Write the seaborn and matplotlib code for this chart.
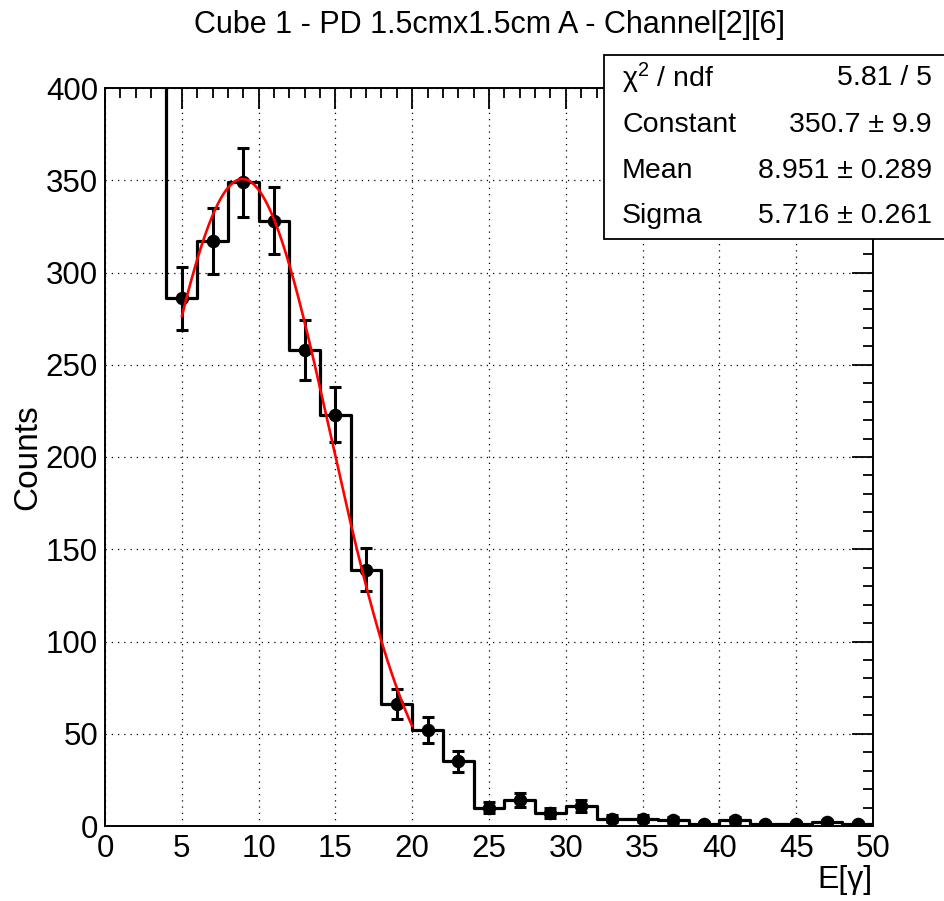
import numpy as np
import pandas as pd
import matplotlib
matplotlib.use("Agg")
import matplotlib.pyplot as plt
from matplotlib.ticker import MultipleLocator
from matplotlib.patches import Rectangle
import seaborn as sns

# Energy histogram: bin edges (width 2) and counts per bin
bin_edges = list(range(2, 52, 2))
counts = [452, 286, 317, 349, 328, 258, 223, 139, 66, 52, 35, 10, 14, 7, 11,
          4, 4, 3, 1, 3, 1, 1, 2, 1]

# Gaussian fit result
fit_constant = 350.7
fit_mean = 8.951
fit_sigma = 5.716
fit_range = (5.0, 20.0)

title_text = "Cube 1 - PD 1.5cmx1.5cm A - Channel[2][6]"
stat_labels = ["χ$^{2}$ / ndf", "Constant", "Mean", "Sigma"]
stat_values = ["5.81 / 5", "350.7 ± 9.9", "8.951 ± 0.289", "5.716 ± 0.261"]

sns.set_style("white")
plt.rcParams["font.family"] = ["Liberation Sans", "DejaVu Sans"]
plt.rcParams["mathtext.fontset"] = "custom"
plt.rcParams["mathtext.rm"] = "Liberation Sans"
plt.rcParams["mathtext.it"] = "Liberation Sans:italic"
plt.rcParams["mathtext.bf"] = "Liberation Sans:bold"
for key in ["text.color", "axes.labelcolor", "xtick.color", "ytick.color",
            "axes.edgecolor"]:
    plt.rcParams[key] = "black"

edges = np.array(bin_edges, dtype=float)
centers = 0.5 * (edges[:-1] + edges[1:])
df = pd.DataFrame({"E": centers, "N": np.array(counts, dtype=float)})
df["err"] = np.sqrt(df["N"])

W, H = 944, 901
fig = plt.figure(figsize=(W / 100, H / 100), dpi=100)
ax = fig.add_axes([105 / W, 1 - 826 / H, (873 - 105) / W, (826 - 88) / H])

# histogram outline
sns.histplot(x=df["E"], weights=df["N"], bins=[float(e) for e in bin_edges],
             element="step", fill=False, color="black", linewidth=2.3,
             ax=ax, zorder=3)

# statistical error bars and markers
ax.errorbar(df["E"], df["N"], yerr=df["err"], fmt="none", ecolor="black",
            elinewidth=2.2, capsize=4.5, capthick=2.2, zorder=4)
sns.scatterplot(data=df, x="E", y="N", color="black", s=95, edgecolor="black",
                linewidth=0, ax=ax, zorder=5)

# gaussian fit curve
xf = np.linspace(fit_range[0], fit_range[1], 300)
yf = fit_constant * np.exp(-0.5 * ((xf - fit_mean) / fit_sigma) ** 2)
sns.lineplot(x=xf, y=yf, color="red", linewidth=1.9, ax=ax, zorder=6)

ax.set_xlim(0, 50)
ax.set_ylim(0, 400)
ax.set_xlabel("")
ax.set_ylabel("")
ax.xaxis.set_major_locator(MultipleLocator(5))
ax.xaxis.set_minor_locator(MultipleLocator(1))
ax.yaxis.set_major_locator(MultipleLocator(50))
ax.yaxis.set_minor_locator(MultipleLocator(10))
ax.tick_params(which="both", direction="in", top=True, right=True,
               width=1.3, color="black", labelcolor="black", labelsize=22.5)
ax.tick_params(which="major", length=15)
ax.tick_params(which="minor", length=7.5)
ax.tick_params(axis="x", pad=6)
ax.tick_params(axis="y", pad=5)
ax.grid(which="major", color="black", linestyle=(0, (1, 4)), linewidth=0.9)
for s in ax.spines.values():
    s.set_linewidth(1.4)
    s.set_color("black")

fig.text(490 / W, 1 - 25 / H, title_text, ha="center", va="center",
         fontsize=22, color="black")
fig.text(28 / W, 1 - 457 / H, "Counts", rotation=90, ha="center", va="center",
         fontsize=24, color="black")
fig.text(873 / W, 1 - 880 / H, "E[γ]", ha="right", va="center", fontsize=23,
         color="black")

# fit statistics box
box = Rectangle((604 / W, 1 - 239 / H), (960 - 604) / W, (239 - 55) / H,
                transform=fig.transFigure, facecolor="white",
                edgecolor="black", linewidth=1.3, zorder=10)
fig.add_artist(box)
row_y = [78, 125, 171, 216]
for lab, val, y in zip(stat_labels, stat_values, row_y):
    fig.text(622 / W, 1 - y / H, lab, ha="left", va="center", fontsize=20.5,
             color="black", zorder=11)
    fig.text(932 / W, 1 - y / H, val, ha="right", va="center", fontsize=20.5,
             color="black", zorder=11)

fig.savefig("out.png", dpi=100, facecolor="white")
